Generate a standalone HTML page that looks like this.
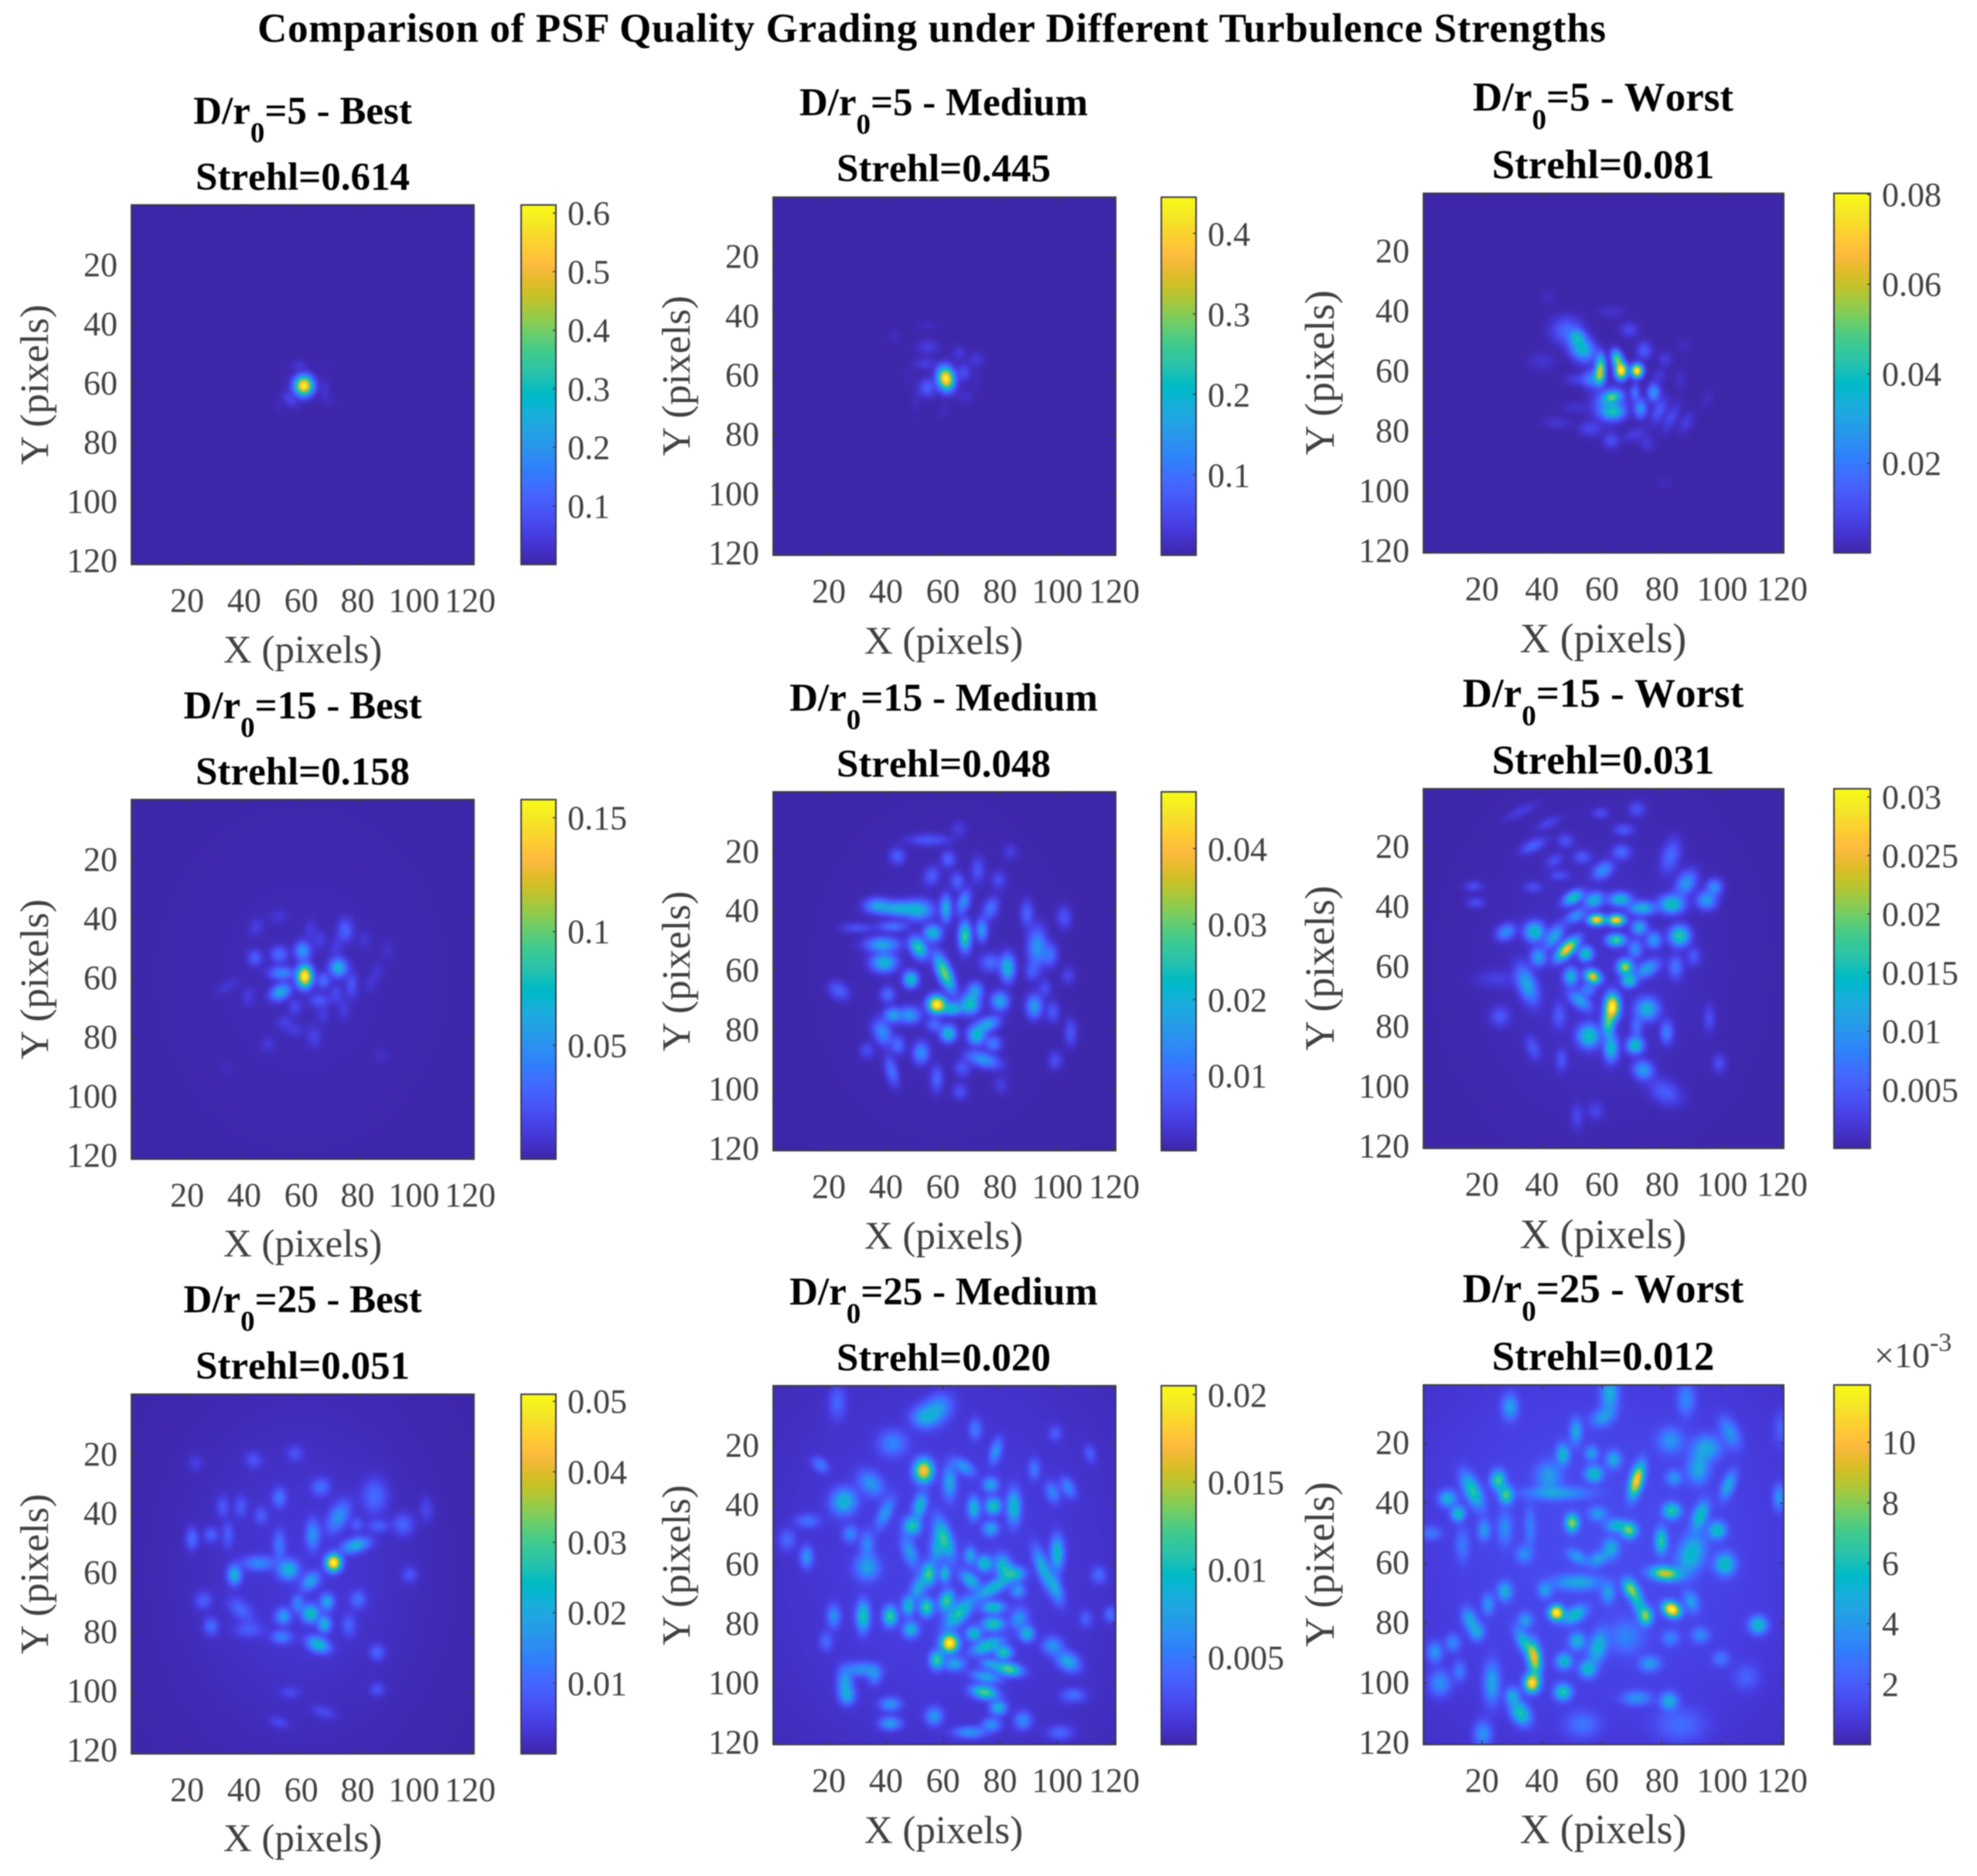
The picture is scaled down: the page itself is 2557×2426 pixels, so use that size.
<!DOCTYPE html>
<html lang="en">
<head>
<meta charset="utf-8">
<title>Comparison of PSF Quality Grading under Different Turbulence Strengths</title>
<style>
  html, body { margin: 0; padding: 0; background: #fff; }
  #figure { position: relative; width: 2557px; height: 2426px; overflow: hidden; background: #fff; filter: blur(0.7px); }
  #figure canvas { position: absolute; display: block; }
  #overlay { position: absolute; left: 0; top: 0; }
  text { font-family: "Liberation Serif", "Times New Roman", serif; }
  .main { font-size: 53px; font-weight: bold; fill: #000; }
  .ttl { font-size: 51px; font-weight: bold; fill: #000; text-anchor: middle; font-kerning: none; }
  .ttl3 { font-size: 53px; }
  .sub { font-size: 37px; }
  .lab { font-size: 51px; fill: #404040; text-anchor: middle; }
  .laby { font-size: 52px; }
  .lab3 { font-size: 53.5px; }
  .tick { font-size: 44px; fill: #404040; }
</style>
</head>
<body>
<div id="figure">
<svg id="overlay" width="2557" height="2426" viewBox="0 0 2557 2426" xmlns="http://www.w3.org/2000/svg">
  <defs id="defs"></defs>
  <text class="main" x="333" y="54" textLength="1744" lengthAdjust="spacing">Comparison of PSF Quality Grading under Different Turbulence Strengths</text>

  <text class="ttl" x="391.5" y="160">D/r<tspan class="sub" dy="24">0</tspan><tspan dy="-24">=5 - Best</tspan></text>
  <text class="ttl" x="391.5" y="245.5">Strehl=0.614</text>
  <text class="ttl" x="1220.5" y="149">D/r<tspan class="sub" dy="24">0</tspan><tspan dy="-24">=5 - Medium</tspan></text>
  <text class="ttl" x="1220.5" y="234.5">Strehl=0.445</text>
  <text class="ttl ttl3" x="2073.5" y="143">D/r<tspan class="sub" dy="24">0</tspan><tspan dy="-24">=5 - Worst</tspan></text>
  <text class="ttl ttl3" x="2073.5" y="230.5">Strehl=0.081</text>

  <text class="ttl" x="391.5" y="929">D/r<tspan class="sub" dy="24">0</tspan><tspan dy="-24">=15 - Best</tspan></text>
  <text class="ttl" x="391.5" y="1014.5">Strehl=0.158</text>
  <text class="ttl" x="1220.5" y="919">D/r<tspan class="sub" dy="24">0</tspan><tspan dy="-24">=15 - Medium</tspan></text>
  <text class="ttl" x="1220.5" y="1004.5">Strehl=0.048</text>
  <text class="ttl ttl3" x="2073.5" y="914">D/r<tspan class="sub" dy="24">0</tspan><tspan dy="-24">=15 - Worst</tspan></text>
  <text class="ttl ttl3" x="2073.5" y="1000.5">Strehl=0.031</text>

  <text class="ttl" x="391.5" y="1697">D/r<tspan class="sub" dy="24">0</tspan><tspan dy="-24">=25 - Best</tspan></text>
  <text class="ttl" x="391.5" y="1783">Strehl=0.051</text>
  <text class="ttl" x="1220.5" y="1687">D/r<tspan class="sub" dy="24">0</tspan><tspan dy="-24">=25 - Medium</tspan></text>
  <text class="ttl" x="1220.5" y="1772.5">Strehl=0.020</text>
  <text class="ttl ttl3" x="2073.5" y="1684">D/r<tspan class="sub" dy="24">0</tspan><tspan dy="-24">=25 - Worst</tspan></text>
  <text class="ttl ttl3" x="2073.5" y="1771.5">Strehl=0.012</text>

  <text class="lab" x="391.5" y="857">X (pixels)</text>
  <text class="lab" x="1220.5" y="845.5">X (pixels)</text>
  <text class="lab lab3" x="2073.5" y="843.5">X (pixels)</text>
  <text class="lab" x="391.5" y="1625">X (pixels)</text>
  <text class="lab" x="1220.5" y="1615">X (pixels)</text>
  <text class="lab lab3" x="2073.5" y="1614">X (pixels)</text>
  <text class="lab" x="391.5" y="2394">X (pixels)</text>
  <text class="lab" x="1220.5" y="2383.5">X (pixels)</text>
  <text class="lab lab3" x="2073.5" y="2383.5">X (pixels)</text>

  <text class="lab laby" transform="translate(62 497.5) rotate(-90)">Y (pixels)</text>
  <text class="lab laby" transform="translate(892 486) rotate(-90)">Y (pixels)</text>
  <text class="lab lab3" transform="translate(1725 482) rotate(-90)">Y (pixels)</text>
  <text class="lab laby" transform="translate(62 1266.5) rotate(-90)">Y (pixels)</text>
  <text class="lab laby" transform="translate(892 1256) rotate(-90)">Y (pixels)</text>
  <text class="lab lab3" transform="translate(1725 1252) rotate(-90)">Y (pixels)</text>
  <text class="lab laby" transform="translate(62 2035.5) rotate(-90)">Y (pixels)</text>
  <text class="lab laby" transform="translate(892 2024) rotate(-90)">Y (pixels)</text>
  <text class="lab lab3" transform="translate(1725 2023) rotate(-90)">Y (pixels)</text>

  <text class="tick" x="2424" y="1768" style="font-size:46px">×10<tspan style="font-size:34px" dy="-21">-3</tspan></text>
</svg>
</div>

<script>
// ---------- Data: peak intensity of each panel (colorbar maximum) ----------
const peakValues = [0.614, 0.445, 0.0803, 0.158, 0.0475, 0.0307, 0.051, 0.0205, 0.0119];

// ---------- Axis ticks ----------
const xTicks = [20, 40, 60, 80, 100, 120];
const yTicks = [20, 40, 60, 80, 100, 120];

// ---------- Colorbar ticks and printed labels ----------
const cbTicks_5_best = [0.1, 0.2, 0.3, 0.4, 0.5, 0.6];
const cbLabels_5_best = ['0.1', '0.2', '0.3', '0.4', '0.5', '0.6'];
const cbTicks_5_medium = [0.1, 0.2, 0.3, 0.4];
const cbLabels_5_medium = ['0.1', '0.2', '0.3', '0.4'];
const cbTicks_5_worst = [0.02, 0.04, 0.06, 0.08];
const cbLabels_5_worst = ['0.02', '0.04', '0.06', '0.08'];
const cbTicks_15_best = [0.05, 0.1, 0.15];
const cbLabels_15_best = ['0.05', '0.1', '0.15'];
const cbTicks_15_medium = [0.01, 0.02, 0.03, 0.04];
const cbLabels_15_medium = ['0.01', '0.02', '0.03', '0.04'];
const cbTicks_15_worst = [0.005, 0.01, 0.015, 0.02, 0.025, 0.03];
const cbLabels_15_worst = ['0.005', '0.01', '0.015', '0.02', '0.025', '0.03'];
const cbTicks_25_best = [0.01, 0.02, 0.03, 0.04, 0.05];
const cbLabels_25_best = ['0.01', '0.02', '0.03', '0.04', '0.05'];
const cbTicks_25_medium = [0.005, 0.01, 0.015, 0.02];
const cbLabels_25_medium = ['0.005', '0.01', '0.015', '0.02'];
const cbTicks_25_worst = [0.002, 0.004, 0.006, 0.008, 0.01];
const cbLabels_25_worst = ['2', '4', '6', '8', '10'];

// ---------- Speckles ----------
// each row: [pixelX, pixelY, relative intensity, widthX, widthY, tilt in degrees]
const psf_5_best = [
  [60.9,60.8,1,2.05,2.05],[56,65.4,.1,2.2,1.3,45],[68.2,62.4,.05,1.1,2.6],[59.4,54,.06,1.8,1],
  [70,66,.02,2,1.5],[52,68.4,.02,1.8,1.4,45],[55,58,.012,1.5,3],[68,54,.012,2,1.5]
];
const psf_5_medium = [
  [61,61.3,1,1.8,2.5,-12],[54.6,64.3,.17,2,2],[67.2,59.2,.12,1.6,2],[53.7,56.3,.08,2.6,1.2],
  [54.6,50.7,.08,2.6,1.6],[65.5,52.8,.07,1.6,1.6],[71.8,55,.07,1.7,1.7],[67.7,67,.05,2,1.5],
  [42.8,47.2,.025,1.7,1.7],[54.6,43.4,.03,2.5,1],[50.6,68.8,.03,1,3],[60,72,.025,1.5,1.5],
  [72,62,.02,1.5,2],[48,60,.02,1.5,2]
];
const psf_5_worst = [
  [66.4,59.7,1,1.2,1.7],[71.6,59.7,1,1.1,1.3],[65,55.8,.62,1,1.9,-15],[59.5,58.4,.62,.9,2.8],[59,61.5,.5,1,2],
  [56.5,62.5,.25,2,2],[51.7,48.5,.36,1.6,1.6],[53.4,52.4,.46,3,2.4,45],[48.3,46.3,.2,3.5,3],
  [63.4,68.4,.5,2,1.1,-15],[63.8,73.6,.38,2.4,1.4],[62.5,71,.32,3.5,3.5],[77.2,67,.34,1.2,1.9],
  [72.8,72.3,.32,1.3,2.1],[71,67,.22,.8,1.9],[79,73,.16,1.3,3,25],[83,75.3,.11,1.3,3.5,25],[88,77,.08,1.3,2.6,25],
  [74,53,.16,1.6,1.9],[69,46,.11,1.9,1.6],[81,56,.08,1.4,1.6],[79,61.5,.07,1.4,1.4],[52,62.5,.09,3,1.2],
  [40,56.5,.06,3,2],[45,77,.06,3,1.2],[63,83,.13,1.7,1.7],[75,84,.07,1.6,1.6],[71,81,.08,3,1.3,-20],
  [56,79,.11,2.5,1.6],[51,72,.05,3,1.2],[63,40,.05,3,1.3],[86,62.5,.04,1.2,2.5],[95,69,.03,1.2,2.5,25],
  [81,97,.025,1.7,1],[42,35,.03,1.7,1.7],[87.5,51,.03,1.7,1.7]
];
const psf_15_best = [
  [61.2,59.5,1,1.7,2.4],[53.2,58.4,.28,3,1.4],[52.8,64.7,.4,2.5,1.6,-25],[73,56.6,.42,2,2],
  [60.5,51,.33,1.8,2],[52.3,52.2,.2,2,1.8],[43.8,53.3,.16,1.7,1.8],[67.7,60.9,.2,1.6,1.7],
  [75.4,44,.18,1.8,2.6],[77.6,62.3,.14,1.4,3],[66.3,67.5,.14,2.5,1.6],[72.2,65.4,.11,1.5,2],
  [44.2,43,.08,1.6,2,20],[51.9,39.5,.06,2.2,1.5],[66.3,47.3,.08,1.5,2],[72.2,49.8,.07,1.5,3,20],[63.2,44.2,.07,1.4,2.4],
  [57.8,69.6,.1,1.6,1.8],[54.2,74.8,.08,2,1.5],[64.5,79.6,.09,1.7,2.4],[48.3,82.2,.06,1.8,1.6],[34.3,62.8,.06,3,1.2,-30],
  [41.5,66.2,.07,1.5,2.2],[67.7,72.2,.07,1.5,2],[74.9,70.5,.07,1.4,2.6],[82.1,47.2,.05,1.7,2],[90.3,50.7,.04,1.5,2.2],
  [86.6,57.6,.05,1.5,2.2],[84.4,62,.05,1.5,2],[88,86,.04,1.6,1.6],[33.8,90.3,.025,1.7,1.7],[57.8,77.4,.07,2.5,1.4],
  [60,60,.02,30,34]
];
const psf_15_medium = [
  [57.8,71.6,1,2,1.8],[60.5,61,.65,1.5,4.5,-25],[51.4,52.6,.55,1.7,2.6,-35],[67.7,48.8,.58,1.3,3.2],
  [56.4,47.7,.45,2,1.8],[73.6,46.8,.33,1.2,2.5],[61,39.5,.4,1.2,3],[67.2,37.3,.3,1.3,2.8,20],
  [51.4,40,.4,3.5,2.2],[44.2,39.5,.4,4,1.6],[37,38.6,.35,3,1.6],[38.8,51.6,.38,4,1.6],[39.3,57.6,.45,3,2],
  [42.4,45.5,.22,3.5,1],[30,46,.13,4,1],[48.7,63.2,.5,1.6,1.7],[82.6,59.3,.45,1.6,3],[93,52.4,.33,2.2,4.5],
  [97.5,55,.22,1.7,2.5],[76.7,57.6,.2,2.5,2],[69.5,71.4,.5,2.2,2.2],[63.2,73,.45,2.5,1.4],[71.3,67,.33,1.7,1.8],
  [79.9,70.5,.38,2,2],[92,72.2,.35,1.8,2.6],[48.3,75.2,.33,2.6,1.8],[42.4,75.2,.35,2,1.6],[40.6,68.3,.2,1.6,1.7],
  [38.8,80.9,.3,2,3,-25],[61.8,81.3,.45,1.8,1.8],[71.7,82,.45,2,2],[75.4,78.3,.38,3,1.5,-20],[77.6,84.7,.25,1.8,1.6],
  [56.9,78.3,.2,1.8,1.6],[52.3,87.8,.3,1.8,2.4],[74,90,.33,4,1.6,15],[42,93.8,.22,1.3,3.5,-15],[44.2,85.2,.2,1.6,2],
  [33.4,87,.12,1.7,1.7],[57.8,96.4,.18,1.4,3],[66.8,92.9,.15,1.8,1.8],[65.9,100.7,.13,1.7,1.8],[104.7,81,.15,1.4,3],
  [98.4,74,.15,1.5,2.4],[99.3,90.3,.13,1.6,2],[102.4,42.5,.14,1.7,2.5],[89.4,41.2,.18,1.4,3],[91.2,60.6,.15,1.6,2],
  [103.8,62,.1,1.6,2],[95.7,66.2,.12,1.5,2],[76.7,39.5,.22,1.6,2.6,25],[72.2,26.6,.14,1.5,3],[79.4,30,.12,1.7,2],
  [44,22,.17,1.8,1.8],[61.8,23,.18,1.6,1.8],[55,16.6,.15,5,1.2],[65,30.4,.18,1.5,2],[56,28.7,.16,1.8,2.2,25],
  [65.4,12.8,.08,1.7,1.7],[83.5,20.5,.08,1.7,1.7],[23.5,67,.18,2.5,1.8,30],[80.3,98.5,.08,1.7,2],[60,60,.03,24,30]
];
const psf_15_worst = [
  [63.4,73.2,1,1.5,2.8],[62,78.8,.55,1.2,3],[63,87,.45,1.5,3],[71,86.1,.48,1.8,1.8],[55.6,83,.5,2.5,2.6],
  [73.7,94.4,.35,2.2,2,25],[75,74,.42,2.6,2.5],[56.9,63.2,.8,1.8,1.3,30],[67.7,60,.7,1.6,1.6],[69,64.5,.5,1.6,1.4],
  [48.3,54,.85,1.3,3.2,45],[54.5,55.6,.5,1.5,1.5],[58.2,44.2,.9,1.8,1],[64.7,44.3,.9,1.8,1],[64.7,51,.58,2,1.2],
  [49.6,63.2,.42,1.5,2],[66,37.4,.45,2.5,1.4],[73.3,40.3,.42,3,1.4],[83.2,39,.5,2.8,2],[85.8,49.6,.55,2.2,2.2],
  [94.8,37.7,.35,2.2,2],[88,32,.33,2,3,30],[97.4,33.3,.3,1.7,1.7],[50.4,36.8,.5,2.4,1.2,-30],[57.3,37.7,.42,2.2,1.6,-20],
  [37.5,48.2,.48,2.2,2.2],[28,48.3,.3,2.2,1.6,-30],[44,49.8,.37,1.5,3,35],[38.8,56.7,.35,1.7,2],[72.4,46.8,.38,1.7,1.6],
  [77.2,51,.32,1.7,1.8],[75,60.6,.35,3,1.6,-30],[71,54,.28,1.5,2],[51.3,42.9,.3,2.5,1.2,-30],[60.3,27.7,.3,2.5,1.6,-35],
  [66.4,21.6,.2,2,1.6],[82.8,23,.2,2,4,15],[37,19.5,.18,3,1.2,-25],[35,65.8,.38,2,4.5,-20],[52.6,71.2,.35,3,1.5,40],
  [55.2,67.5,.25,1.6,1.4],[81.5,81.8,.25,1.3,2.6],[84.5,60,.22,1.6,2.6],[90.5,56.5,.15,1.4,2],[71.5,80,.2,1.2,2.4],
  [26,76.5,.15,2.2,2.2],[37,87,.14,1.4,2.8,-20],[17.2,33,.12,2,1],[18,38.5,.12,2,1],[81,101.7,.17,4,2.5,30],
  [57.8,108,.1,1.8,2],[51.7,110,.1,1.3,3],[99,92.2,.12,1.5,2.2],[95.7,77.2,.12,1.2,3],[45.7,76.2,.15,1.5,3],
  [46.5,91,.14,1.2,2.5],[71.6,7.3,.14,1.8,1.6],[59.5,8.6,.12,1.8,1],[67.2,14.2,.15,2.2,1.2],[53.4,23.3,.15,2,1.4],
  [44,24.6,.12,2,1.2,-30],[47.8,17.8,.14,1.7,1.4],[37,33.3,.12,2,1],[45.7,29.4,.12,2.2,1],[33,8,.08,4,1,-25],
  [42,12,.1,3,1,-25],[25,64,.08,5,2],[60,60,.05,26,32]
];
const psf_25_best = [
  [71.3,56.7,1,1.7,1.8],[79,50.9,.4,3.5,1.5,-15],[55.5,59,.42,2.5,2.2],[36.6,60.8,.42,1.5,2.2],[63.2,62.9,.35,2.5,1.7,-40],
  [63.2,73.7,.48,2,2,-40],[69,69.8,.36,1.6,1.8],[68.1,77.2,.4,1.5,1.8],[65.9,84,.45,2.8,1.6,20],[53.7,74.6,.33,1.8,1.8],
  [53.2,81.5,.25,2.5,1.4],[58.7,70.3,.25,1.4,2],[45.1,56.9,.27,4,1.6],[52.3,50.9,.22,1.4,3.5],[64,47.4,.3,1.6,3.5],
  [73,41.4,.3,2.2,4,30],[52.3,35,.22,1.6,2.2],[66.8,31.5,.2,2.2,2],[85.7,34.5,.2,3,4],[95.7,44,.18,2.5,2.5],
  [87,44.5,.16,2.5,1.4],[79.4,44,.15,1.5,1.6],[43.3,22.4,.13,2,1.8,30],[57.8,20.3,.12,2,1.8],[38.8,72.4,.18,3.5,2,40],
  [41.5,79,.15,3.5,1.7],[28.4,78,.2,1.7,2],[25.7,69.4,.16,2,2],[21.7,48.7,.2,1.4,2.5],[28.4,47.4,.17,1.6,1.7],
  [79.9,69,.2,1.8,2],[86.6,86.6,.18,1.7,1.7],[86.6,99,.13,1.7,1.5],[98,60.8,.14,1.8,1.7],[76.7,77.6,.16,1.6,2.6],
  [67.7,106.5,.11,2.8,1.2,15],[56,100,.1,2.5,1.2],[52.3,110,.1,2.5,1.2,15],[23,23.3,.08,1.6,1.8],[103.8,39,.1,1.6,3],
  [46,41,.14,1.6,2],[32.5,38,.14,1.4,2.4],[38.8,38,.14,1.4,2.4],[34.3,47.4,.15,1.3,3],[60,60,.065,30,38]
];
const psf_25_medium = [
  [53.2,28.9,.85,2.2,2.6],[62.3,86.6,1,2,2],[25.3,39.2,.42,3.2,3,-30],[34.7,33.2,.3,3.5,2.5,40],[51.9,40.5,.42,1.5,3,15],
  [49.2,47.4,.5,2,2],[62.3,32.8,.35,1.6,4],[67.2,27.6,.3,3,1.5,30],[70.8,41.4,.42,1.4,2.6],[77.6,40.7,.5,1.8,1.8],
  [76.7,33.6,.35,1.8,1.6],[76.7,48.3,.35,1.8,1.6],[84.8,41,.45,1.6,4],[78.5,22.4,.3,1.2,3,15],[57.8,8.6,.35,4,3,-40],
  [42.4,19.8,.25,3.5,3],[71.3,15,.22,1.4,2.4],[17,27,.22,2.2,1.4,35],[60.5,51.7,.5,1.8,5,-20],[57.8,55,.33,1.6,3.5],
  [100,56.5,.45,1.5,4],[94.8,61.2,.38,1.5,5,-20],[99.3,68,.35,1.5,4,-20],[81.2,61.2,.45,2,3,-20],[85.3,63.4,.4,2.4,1.6],
  [74.5,60,.45,1.8,1.8],[69.5,57.3,.33,1.4,2],[69.5,65.5,.4,2.8,1.5,40],[77.6,68,.42,5,1.5,-30],[55,63.4,.55,1.6,2.6],
  [51.4,68,.35,1.6,3,20],[60.6,63.4,.4,1.2,2],[61.2,72.4,.55,1.6,2.4,20],[54.2,74.6,.55,1.6,2],[47.8,74.1,.42,1.4,2.2],
  [41.5,77.6,.55,1.6,2.2],[32,77.6,.5,1.5,3.5],[48.7,82,.4,1.8,1.8],[65.4,76.7,.5,2,4.5,45],[77.6,74.6,.45,2.8,1.3],
  [77.6,80.2,.5,2.6,1.5],[70.8,83.4,.45,1.8,1.5],[89.4,83.4,.42,1.7,1.7],[86.2,69,.3,1.7,1.6],[86.6,78.4,.3,2,2.5,20],
  [75.4,87.5,.48,4,1.5,-20],[81.2,89.7,.5,2,1.4],[83,95.3,.6,3.2,1.3,10],[76.5,93.5,.3,2.5,1.1,10],[74.5,103,.58,3.2,1.4,10],
  [75,97.8,.35,3.5,1.3,10],[79.4,108.2,.42,1.9,1.5],[57.8,92.2,.55,1.5,2],[64,93.5,.35,2.5,1.5],[103.8,92.7,.38,3,2,30],
  [98.4,87.5,.3,2.4,2],[25.7,100,.35,1.8,3.5],[31.6,95.3,.3,4,1.5],[36,97.4,.25,1.6,2],[26.6,104.3,.3,1.8,2],
  [33.4,61.2,.33,3,3],[33.4,53.4,.25,1.6,3],[12.2,57.8,.3,1.5,2.5],[27.5,50,.25,1.8,2],[12.6,45.7,.2,3,1.6],[5.4,52,.18,2,2.5],
  [48.3,56,.3,1.6,4,-20],[39.7,43,.3,1.5,4,25],[21.7,77.6,.28,1.5,2.6],[19,86,.18,1.5,2.2],[41.5,107,.3,2.5,1.5],
  [41.5,113.4,.33,2.6,1.4],[56.9,111,.32,2,2],[69.5,116.4,.3,4,1.2],[77,113.8,.3,2.2,1.4],[88,112.5,.28,2,2,-25],
  [105.6,104,.2,3,1.6],[101,116.5,.18,3,1.6],[92,28.4,.22,1.3,2.4],[98.4,36.2,.25,1.6,2.5,-20],[103.8,34.5,.25,1.5,2.6,-30],
  [99.3,16.4,.15,1.5,1.7],[111.5,23.3,.15,1.3,2.2,-15],[118.7,77,.2,1.4,1.8],[114.6,63.8,.18,1.8,2],[110,78.4,.15,1.5,2],
  [23,6,.18,2,4],[53,11,.3,3,2.5],[60,60,.09,50,55]
];
const psf_25_worst = [
  [71.5,32.3,.85,1.3,4,15],[44.8,76.5,1,1.5,1.5],[83.2,75.4,1,2,1.5,30],[36.6,100,.9,1.6,2],[37.5,92,.7,1.4,4,-5],
  [34.5,87,.45,1.4,4,-30],[81,63.4,.72,3.5,1.5,5],[69.4,68.5,.6,1.4,2.4,-25],[74.6,77.6,.6,1.4,2],[72,73,.4,1.3,3.5,-15],
  [16.8,35.8,.5,1.8,4.5,-25],[25.4,32.3,.55,1.6,2.2],[28,37.2,.55,1.5,2],[8.6,38.4,.4,2,1.8],[12,43.4,.45,1.5,1.7],
  [50,46.5,.65,1.4,2],[69,49,.6,1.7,1.7],[64.7,47.4,.4,2.4,1.4],[79.7,52.6,.5,1.3,3],[83.2,42.5,.5,2,1.8],
  [89.7,57,.42,3,5,20],[100.9,60.3,.45,2.4,2.6],[92.7,44,.45,1.6,3.5,20],[98.3,49,.45,2,2],[102,34,.35,1.4,3.5,20],
  [119,38,.3,1.3,3],[112,80.6,.45,2,2],[57.3,30.2,.45,2,1.8],[47,23.7,.4,1.5,2.5],[51.3,16,.35,1.3,3],[62.5,3.4,.38,2,4],
  [60.3,11.2,.3,3,2,-30],[29.3,7.8,.33,1.8,3],[63.8,25.4,.35,1.7,2],[56.5,23.3,.3,1.5,1.7],[42.2,31,.3,3,3.5],
  [45,36.6,.3,8,1.5],[94.8,21.6,.35,3.5,3],[82.8,19,.28,3,3],[92,28.5,.35,2.5,3.5],[102.6,16.4,.28,2,4,-25],[88,5.2,.25,2,4],
  [84,31.5,.28,1.8,1.8],[58.6,43.5,.28,2.2,1.6],[20.7,49,.3,1.4,2.4],[27.6,48.3,.25,1.6,4],[63,55,.35,1.8,2.4],
  [51.7,57.8,.28,2.6,1.4,30],[58.6,58.6,.3,2.4,1.6,-30],[34,57,.25,1.8,2],[27.6,69.4,.38,1.6,2.2],[41,69,.3,1.5,1.8],
  [51.7,66.4,.33,6,1.8],[62,70,.3,1.5,2.4],[50.9,77.2,.45,3,1.6,-30],[34.5,79,.3,1.6,1.8],[16,79,.35,1.6,3,-20],
  [18.5,83,.3,1.6,2],[22,73.7,.28,1.3,2.4],[51.7,86,.38,1.8,2],[58.6,88,.4,2,4,15],[47.4,92.7,.42,1.8,1.8],
  [55.2,95.3,.42,1.9,1.9],[47,103,.5,1.9,1.8],[75.9,93.5,.3,2.4,1.8],[82.3,106,.38,2,2],[71.6,105,.28,3.5,1.6],
  [23.3,100,.35,1.8,5],[32.8,110,.5,2,3,-30],[30.2,104.3,.35,1.6,2],[20.3,117,.3,2,3],[6,100,.28,2.5,3],[12.5,96,.22,1.4,2.4],
  [4.3,89.7,.3,1.7,2.4],[10.3,86.6,.25,1.7,2],[99.6,91.8,.2,2,1.8],[92.7,84,.25,2,1.8],[89.7,72.8,.3,1.6,2.6,-20],
  [82.8,85,.22,2,1.8],[68,84.5,.22,4,4],[53.4,113.8,.2,4,3],[86,114,.18,6,4],[108,98,.15,3,3],[36,48,.2,1.2,5],
  [13.5,54,.2,1.5,4],[120,15,.15,2,4],[3,50,.2,2.5,1.6],[60,55,.12,62,62]
];

// ---------- MATLAB parula colormap ----------
const parula = [[.2422,.1504,.6603],[.2504,.165,.7076],[.2578,.1818,.7511],[.2647,.1978,.7952],[.2706,.2147,.8364],[.2751,.2342,.871],[.2783,.2559,.8991],[.2803,.2782,.9221],[.2813,.3006,.9414],[.281,.3228,.9579],[.2795,.3447,.9717],[.276,.3667,.9829],[.2699,.3892,.9906],[.2602,.4123,.9952],[.244,.4358,.9988],[.2206,.4603,.9973],[.1963,.4847,.9892],[.1834,.5074,.9798],[.1786,.5289,.9682],[.1764,.5499,.952],[.1687,.5703,.9359],[.154,.5902,.9218],[.146,.6091,.9079],[.138,.6276,.8973],[.1248,.6459,.8883],[.1113,.6635,.8763],[.0952,.6798,.8598],[.0689,.6948,.8394],[.0297,.7082,.8163],[.0036,.7203,.7917],[.0067,.7312,.766],[.0433,.7411,.7394],[.0964,.75,.712],[.1408,.7584,.6842],[.1717,.767,.6554],[.1938,.7758,.6251],[.2161,.7843,.5923],[.247,.7918,.5567],[.2906,.7973,.5188],[.3406,.8008,.4789],[.3909,.8029,.4354],[.4456,.8024,.3909],[.5044,.7993,.348],[.5616,.7942,.3045],[.6174,.7876,.2612],[.672,.7793,.2227],[.7242,.7698,.191],[.7738,.7598,.1646],[.8203,.7498,.1535],[.8634,.7406,.1596],[.9035,.733,.1774],[.9393,.7288,.21],[.9728,.7298,.2394],[.9956,.7434,.2371],[.997,.7659,.2199],[.9952,.7893,.2028],[.9892,.8136,.1885],[.9786,.8386,.1766],[.9676,.8639,.1643],[.961,.889,.1537],[.9597,.9135,.1423],[.9628,.9373,.1265],[.9691,.9606,.1064],[.9769,.9839,.0805]];

// ---------- Panels ----------
const panelNames = ['d5-best','d5-medium','d5-worst','d15-best','d15-medium','d15-worst','d25-best','d25-medium','d25-worst'];
const panelBlobs = [psf_5_best,psf_5_medium,psf_5_worst,psf_15_best,psf_15_medium,psf_15_worst,psf_25_best,psf_25_medium,psf_25_worst];
const panelCbTicks = [cbTicks_5_best,cbTicks_5_medium,cbTicks_5_worst,cbTicks_15_best,cbTicks_15_medium,cbTicks_15_worst,cbTicks_25_best,cbTicks_25_medium,cbTicks_25_worst];
const panelCbLabels = [cbLabels_5_best,cbLabels_5_medium,cbLabels_5_worst,cbLabels_15_best,cbLabels_15_medium,cbLabels_15_worst,cbLabels_25_best,cbLabels_25_medium,cbLabels_25_worst];

function layoutOf(i) {
  const col = i % 3, row = Math.floor(i / 3);
  const left = [170, 1000, 1841][col];
  const width = [443, 443, 466][col];
  const top = [[265, 1034, 1803], [255, 1024, 1792], [250, 1020, 1791]][col][row];
  const height = [[465, 465, 465], [463, 464, 464], [465, 465, 465]][col][row];
  const cbLeft = [674, 1502, 2372][col];
  const cbWidth = [45, 45, 47][col];
  return { left, width, top, height, cbLeft, cbWidth, col };
}

const SVG_NS = 'http://www.w3.org/2000/svg';
const overlay = document.getElementById('overlay');
const figure = document.getElementById('figure');

function svgEl(tag, attrs) {
  const el = document.createElementNS(SVG_NS, tag);
  for (const k in attrs) el.setAttribute(k, attrs[k]);
  return el;
}

function colormapRGB(f) {
  const t = Math.max(0, Math.min(1, f)) * (parula.length - 1);
  const a = Math.floor(t), b = Math.min(parula.length - 1, a + 1), m = t - a;
  return [0, 1, 2].map(function (c) { return 255 * (parula[a][c] * (1 - m) + parula[b][c] * m); });
}

function drawHeatmap(canvas, blobs) {
  const G = 240;                // two samples per image pixel
  const P = 1.3;                // overlapping speckles combine with a soft maximum
  canvas.width = G;
  canvas.height = G;
  const field = new Float32Array(G * G);
  const toData = function (p) { return 0.5 + (p + 0.5) * 120 / G; };
  const toGrid = function (v) { return (v - 0.5) * G / 120 - 0.5; };
  blobs.forEach(function (b) {
    const cx = b[0], cy = b[1], amp = b[2];
    const sx = Math.sqrt(Math.pow(b[3] === undefined ? 1.7 : b[3], 2) + 0.6);
    const sy = Math.sqrt(Math.pow(b[4] === undefined ? 1.7 : b[4], 2) + 0.6);
    const th = (b[5] || 0) * Math.PI / 180, cs = Math.cos(th), sn = Math.sin(th);
    const r = 3.6 * Math.max(sx, sy);
    const x0 = Math.max(0, Math.floor(toGrid(cx - r))), x1 = Math.min(G - 1, Math.ceil(toGrid(cx + r)));
    const y0 = Math.max(0, Math.floor(toGrid(cy - r))), y1 = Math.min(G - 1, Math.ceil(toGrid(cy + r)));
    for (let y = y0; y <= y1; y++) {
      const dy = toData(y) - cy;
      for (let x = x0; x <= x1; x++) {
        const dx = toData(x) - cx;
        const u = dx * cs + dy * sn, v = -dx * sn + dy * cs;
        field[y * G + x] += Math.pow(amp * Math.exp(-(u * u / (2 * sx * sx) + v * v / (2 * sy * sy))), P);
      }
    }
  });
  const ctx = canvas.getContext('2d');
  const img = ctx.createImageData(G, G);
  for (let i = 0; i < G * G; i++) {
    const rgb = colormapRGB(Math.pow(field[i], 1 / P));
    img.data[4 * i] = rgb[0];
    img.data[4 * i + 1] = rgb[1];
    img.data[4 * i + 2] = rgb[2];
    img.data[4 * i + 3] = 255;
  }
  ctx.putImageData(img, 0, 0);
}

// shared colorbar gradient
const gradient = svgEl('linearGradient', { id: 'parula-gradient', x1: 0, y1: 1, x2: 0, y2: 0 });
parula.forEach(function (c, i) {
  const stop = svgEl('stop', {
    offset: i / (parula.length - 1),
    'stop-color': 'rgb(' + c.map(function (v) { return Math.round(v * 255); }).join(',') + ')'
  });
  gradient.appendChild(stop);
});
document.getElementById('defs').appendChild(gradient);

panelNames.forEach(function (name, i) {
  const L = layoutOf(i);
  const xScale = function (v) { return L.left + (v - 0.5) / 120 * L.width; };
  const yScale = function (v) { return L.top + (v - 0.5) / 120 * L.height; };
  const cbScale = function (v) { return L.top + L.height - v / peakValues[i] * L.height; };
  // small nudges reproducing where the printed labels sit relative to the ticks
  const xLabelShift = function (t) { return L.col === 0 && t > 60 ? -(t - 60) * 0.05 : 0; };
  const yLabelShift = function (t) {
    if (L.col === 0) return -(t - 50) * 0.05;
    if (L.col === 1) return -(t - 60) * 0.025;
    return -1.5;
  };

  const canvas = document.createElement('canvas');
  
  
  canvas.style.left = L.left + 'px';
  canvas.style.top = L.top + 'px';
  canvas.style.width = L.width + 'px';
  canvas.style.height = L.height + 'px';
  figure.insertBefore(canvas, overlay);
  drawHeatmap(canvas, panelBlobs[i]);

  const frame = svgEl('rect', { x: L.left, y: L.top, width: L.width, height: L.height, fill: 'none', stroke: '#3c3c44', 'stroke-width': 2 });
  
  
  overlay.appendChild(frame);

  xTicks.forEach(function (t) {
    const x = xScale(t);
    const markBottom = svgEl('line', { x1: x, x2: x, y1: L.top + L.height, y2: L.top + L.height - 5, stroke: '#3c3c44', 'stroke-width': 1.5 });
    
    
    overlay.appendChild(markBottom);
    const markTop = svgEl('line', { x1: x, x2: x, y1: L.top, y2: L.top + 5, stroke: '#3c3c44', 'stroke-width': 1.5 });
    
    
    overlay.appendChild(markTop);
    const label = svgEl('text', { class: 'tick', x: x + xLabelShift(t), y: L.top + L.height + 61, 'text-anchor': 'middle' });
    label.textContent = String(t);
    
    
    overlay.appendChild(label);
  });

  yTicks.forEach(function (t) {
    const y = yScale(t);
    const markLeft = svgEl('line', { x1: L.left, x2: L.left + 5, y1: y, y2: y, stroke: '#3c3c44', 'stroke-width': 1.5 });
    
    
    overlay.appendChild(markLeft);
    const markRight = svgEl('line', { x1: L.left + L.width, x2: L.left + L.width - 5, y1: y, y2: y, stroke: '#3c3c44', 'stroke-width': 1.5 });
    
    
    overlay.appendChild(markRight);
    const label = svgEl('text', { class: 'tick', x: L.left - 18, y: y + 15 + yLabelShift(t), 'text-anchor': 'end' });
    label.textContent = String(t);
    
    
    overlay.appendChild(label);
  });

  const bar = svgEl('rect', { x: L.cbLeft, y: L.top, width: L.cbWidth, height: L.height, fill: 'url(#parula-gradient)', stroke: '#3c3c44', 'stroke-width': 2 });
  
  
  overlay.appendChild(bar);

  panelCbTicks[i].forEach(function (t, k) {
    const y = cbScale(t);
    const mark = svgEl('line', { x1: L.cbLeft + L.cbWidth, x2: L.cbLeft + L.cbWidth - 4, y1: y, y2: y, stroke: '#3c3c44', 'stroke-width': 1.5 });
    
    
    overlay.appendChild(mark);
    const label = svgEl('text', { class: 'tick', x: L.cbLeft + L.cbWidth + 15, y: y + 15 + (L.col === 1 ? 0.5 : 0) });
    label.textContent = panelCbLabels[i][k];
    
    
    overlay.appendChild(label);
  });
});
</script>
</body>
</html>
